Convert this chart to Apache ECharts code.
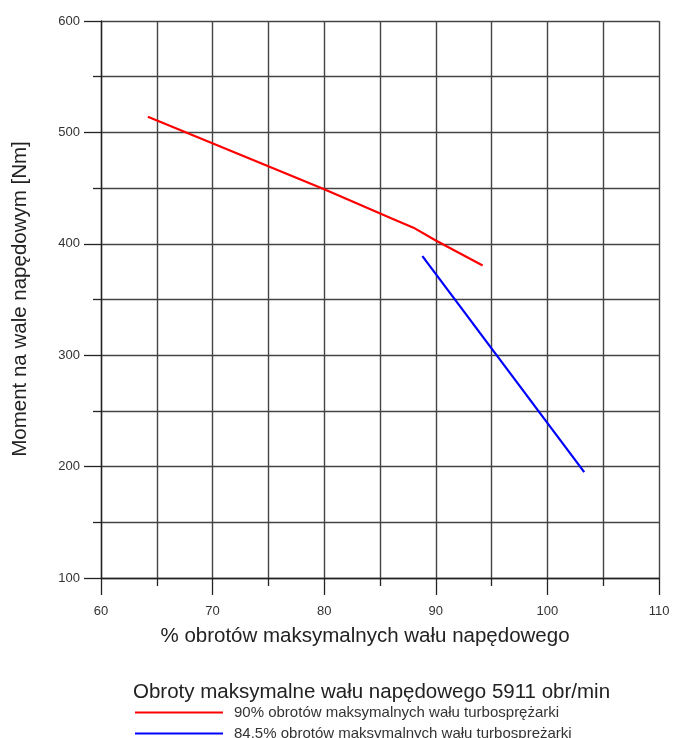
<!DOCTYPE html>
<html>
<head>
<meta charset="utf-8">
<script src="https://cdn.jsdelivr.net/npm/echarts@6/dist/echarts.min.js"></script>
<style>html,body{margin:0;padding:0;background:#fff}#c{width:675px;height:738px}</style>
</head>
<body>
<div id="c"></div>
<script>
var seriesNames = ['90% obrotów maksymalnych wału turbosprężarki', '84.5% obrotów maksymalnych wału turbosprężarki'];
var redX = [64.2, 80, 86, 88, 90, 94.2];
var redY = [514, 449, 423, 414.5, 403, 380.5];
var blueX = [88.8, 103.3];
var blueY = [389, 195];
var xTicks = [60, 70, 80, 90, 100, 110];
var yTicks = [100, 200, 300, 400, 500, 600];
var xName = '% obrotów maksymalnych wału napędowego';
var yName = 'Moment na wale napędowym [Nm]';
var legendTitle = 'Obroty maksymalne wału napędowego 5911 obr/min';

function pairs(xs, ys) { return xs.map(function (x, i) { return [x, ys[i]]; }); }

var FONT = 'Liberation Sans, Arial, sans-serif';
var chart = echarts.init(document.getElementById('c'));
var gridColor = '#444';
var legendCommon = {
  orient: 'vertical', left: 130,
  icon: 'rect', itemWidth: 88, itemHeight: 2,
  textStyle: { fontFamily: FONT, fontSize: 15, color: '#333', padding: [0, 0, 0, 6] }
};
chart.setOption({
  animation: false,
  backgroundColor: '#fff',
  title: {
    text: legendTitle, left: 128, top: 677,
    textStyle: { fontFamily: FONT, fontSize: 20.5, fontWeight: 'normal', color: '#222' }
  },
  legend: [
    Object.assign({}, legendCommon, { top: 700, data: [seriesNames[0]] }),
    Object.assign({}, legendCommon, { top: 721, data: [seriesNames[1]] })
  ],
  graphic: [{
    type: 'text', x: 20, y: 299, rotation: Math.PI / 2,
    style: { text: yName, align: 'center', verticalAlign: 'middle', font: '20.5px ' + FONT, fill: '#222' }
  }, {
    type: 'text', x: 365, y: 636,
    style: { text: xName, align: 'center', verticalAlign: 'middle', font: '20.5px ' + FONT, fill: '#222' }
  }],
  grid: { left: 101, right: 16, top: 21, bottom: 160 },
  xAxis: {
    type: 'value', min: xTicks[0], max: xTicks[xTicks.length - 1], interval: 10,
    axisLine: { show: true, lineStyle: { color: '#222', width: 1.3 } },
    axisTick: { show: true, length: 17, lineStyle: { color: '#222', width: 1.3 } },
    minorTick: { show: true, splitNumber: 2, length: 8, lineStyle: { color: '#222', width: 1.3 } },
    splitLine: { show: true, lineStyle: { color: gridColor, width: 1.4 } },
    minorSplitLine: { show: true, lineStyle: { color: gridColor, width: 1.4 } },
    axisLabel: { margin: 27, fontFamily: FONT, fontSize: 13, color: '#333' }
  },
  yAxis: {
    type: 'value', min: yTicks[0], max: yTicks[yTicks.length - 1], interval: 100,
    axisLine: { show: true, lineStyle: { color: '#222', width: 1.3 } },
    axisTick: { show: true, length: 17, lineStyle: { color: '#222', width: 1.3 } },
    minorTick: { show: true, splitNumber: 2, length: 8, lineStyle: { color: '#222', width: 1.3 } },
    splitLine: { show: true, lineStyle: { color: gridColor, width: 1.4 } },
    minorSplitLine: { show: true, lineStyle: { color: gridColor, width: 1.4 } },
    axisLabel: { margin: 21, fontFamily: FONT, fontSize: 13, color: '#333' }
  },
  series: [
    { name: seriesNames[0], type: 'line', data: pairs(redX, redY), showSymbol: false, symbol: 'none',
      lineStyle: { color: '#ff0000', width: 2.2 }, itemStyle: { color: '#ff0000' } },
    { name: seriesNames[1], type: 'line', data: pairs(blueX, blueY), showSymbol: false, symbol: 'none',
      lineStyle: { color: '#0000ff', width: 2.2 }, itemStyle: { color: '#0000ff' } }
  ]
});
</script>
</body>
</html>
